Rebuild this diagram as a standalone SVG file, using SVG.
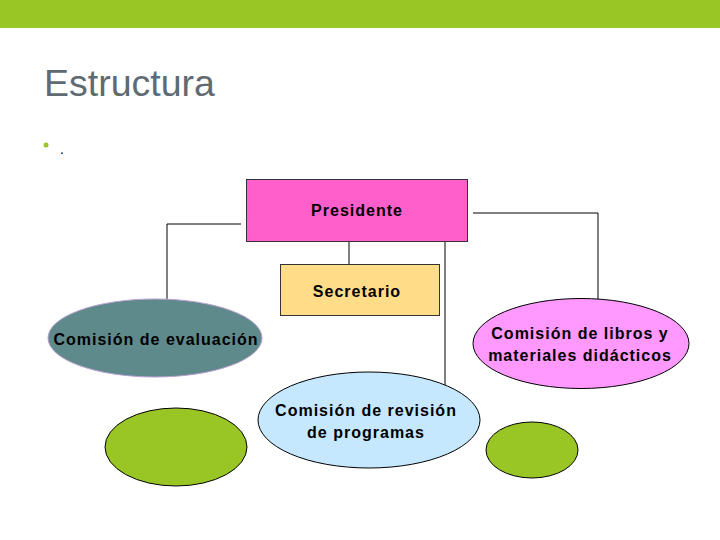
<svg xmlns="http://www.w3.org/2000/svg" width="720" height="540" viewBox="0 0 720 540">
<style>
.lbl{font-family:"Liberation Sans",Arial,sans-serif;font-weight:bold;font-size:16px;letter-spacing:1px;fill:#000;text-anchor:middle}
.ln{stroke:#000;stroke-width:1;fill:none}
.bx{stroke:#333;stroke-width:1}
</style>
<rect x="0" y="0" width="720" height="540" fill="#fff"/>
<rect x="0" y="0" width="720" height="28" fill="#99c624"/>
<text x="44" y="96" font-family="Liberation Sans,Arial,sans-serif" font-size="37.5" fill="#5f6a72">Estructura</text>
<circle cx="46" cy="145" r="2.5" fill="#99c624"/>
<text x="60" y="154" font-family="Liberation Sans,Arial,sans-serif" font-size="14" fill="#000">.</text>
<g id="connectors">
<path class="ln" d="M349 241V270"/>
<path class="ln" d="M241 224H167V315"/>
<path class="ln" d="M473 213H598V299"/>
<path class="ln" d="M445 230V390"/>
</g>
<g id="presidente">
<rect class="bx" x="246.5" y="179.5" width="221" height="62" fill="#ff5fcb"/>
<text class="lbl" x="357" y="216">Presidente</text>
</g>
<g id="secretario">
<rect class="bx" x="280.5" y="264.5" width="159" height="51" fill="#ffdd88"/>
<text class="lbl" x="357" y="297">Secretario</text>
</g>
<g id="evaluacion">
<ellipse cx="155" cy="338" rx="107" ry="39" fill="#5f8a8b" stroke="#b99fd0" stroke-width="1"/>
<text class="lbl" x="156" y="345">Comisión de evaluación</text>
</g>
<g id="libros">
<ellipse cx="581" cy="343.5" rx="108" ry="45" fill="#ff99ff" stroke="#000" stroke-width="1"/>
<text class="lbl" x="580" y="339">Comisión de libros y</text>
<text class="lbl" x="580" y="361">materiales didácticos</text>
</g>
<g id="revision">
<ellipse cx="369" cy="420" rx="111" ry="48" fill="#c5e8ff" stroke="#000" stroke-width="1"/>
<text class="lbl" x="366" y="416">Comisión de revisión</text>
<text class="lbl" x="366" y="438">de programas</text>
</g>
<g id="verde1">
<ellipse cx="176" cy="447" rx="71" ry="39" fill="#99c624" stroke="#000" stroke-width="1"/>
</g>
<g id="verde2">
<ellipse cx="532" cy="450" rx="46" ry="28" fill="#99c624" stroke="#000" stroke-width="1"/>
</g>
</svg>
